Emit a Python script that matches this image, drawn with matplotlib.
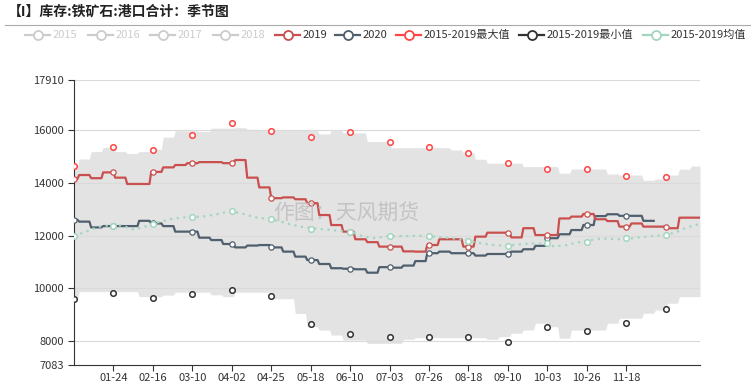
import numpy as np
import pandas as pd
import matplotlib
matplotlib.use("Agg")
import matplotlib.pyplot as plt
from matplotlib.lines import Line2D

plt.rcParams['font.family'] = ['Noto Sans CJK SC', 'DejaVu Sans']

# category axis: one point per day of a leap year
dates = pd.date_range("2020-01-01", "2020-12-31")
days = np.arange(1, len(dates) + 1)
tick_days = list(range(24, 330, 23))
tick_labels = [dates[d - 1].strftime("%m-%d") for d in tick_days]
marker_days = list(range(1, 366, 23))

# weekly values, first entry covers Jan 1-3, then weeks starting Jan 4
week_start = 4
s2019 = [14150, 14300, 14180, 14400, 14200, 13960, 13960, 14420, 14590, 14680,
         14750, 14790, 14790, 14750, 14870, 14200, 13830, 13420, 13450, 13380,
         13230, 12780, 12400, 12150, 11860, 11750, 11580, 11580, 11400, 11390,
         11640, 11860, 11860, 11580, 11960, 12110, 12110, 11930, 12280, 12020,
         12020, 12650, 12720, 12820, 12620, 12550, 12340, 12460, 12340, 12340,
         12280, 12680, 12680]
s2020 = [12600, 12530, 12310, 12360, 12360, 12360, 12560, 12460, 12360, 12150,
         12150, 11920, 11830, 11680, 11550, 11620, 11640, 11550, 11390, 11200,
         11070, 10920, 10760, 10740, 10720, 10590, 10800, 10780, 10860, 11030,
         11330, 11390, 11330, 11330, 11240, 11300, 11300, 11390, 11480, 11610,
         11900, 12050, 12210, 12400, 12740, 12810, 12750, 12750, 12560]
last_day_2020 = 339
band_top = [14620, 14910, 15190, 15350, 15190, 15120, 15190, 15280, 15740, 15980,
            15980, 15950, 16080, 16080, 16100, 16040, 15990, 15990, 15990, 15990,
            15990, 15860, 15990, 15900, 15900, 15570, 15570, 15340, 15340, 15340,
            15340, 15340, 15250, 15150, 14900, 14750, 14750, 14750, 14620, 14620,
            14620, 14370, 14530, 14530, 14530, 14340, 14300, 14300, 14100, 14150,
            14300, 14520, 14640]
band_bottom = [9580, 9870, 9870, 9870, 9870, 9870, 9680, 9680, 9740, 9850,
               9850, 9850, 9750, 9680, 9850, 9850, 9850, 9600, 9600, 9040,
               8540, 8410, 8220, 8030, 8030, 7905, 7905, 7905, 8060, 8120,
               8120, 8120, 8120, 8120, 8120, 8060, 8160, 8290, 8410, 8670,
               8540, 8100, 8410, 8410, 8410, 8670, 8860, 8860, 9050, 9170,
               9430, 9680, 9680]

# 2015-2019 mean, one value every 7 days from Jan 1
mean_weekly = [11980, 12150, 12330, 12400, 12380, 12230, 12350, 12500, 12620, 12690,
               12700, 12740, 12820, 12930, 12840, 12700, 12640, 12560, 12430, 12330,
               12270, 12230, 12180, 12150, 11980, 11900, 11970, 11980, 11990, 11990,
               11960, 11920, 11870, 11780, 11700, 11640, 11610, 11660, 11700, 11690,
               11590, 11640, 11740, 11830, 11890, 11870, 11860, 11930, 11980, 12010,
               12100, 12300, 12430]
mean_days = np.arange(1, 7 * len(mean_weekly), 7)

# symbols shown every 23 days
max_points = [14640, 15350, 15240, 15820, 16290, 15980, 15760, 15920,
              15570, 15350, 15150, 14770, 14520, 14520, 14260, 14210]
min_points = [9590, 9810, 9640, 9770, 9930, 9700, 8640, 8250,
              8160, 8160, 8140, 7960, 8530, 8380, 8690, 9200]
mean_points = [11980, 12380, 12430, 12720, 12930, 12620, 12250, 12120,
               11980, 11980, 11790, 11610, 11700, 11770, 11900, 12020]

yticks = [7083, 8000, 10000, 12000, 14000, 16000, 17910]


def to_daily(weekly, n_days):
    d = np.arange(1, n_days + 1)
    idx = np.where(d < week_start, 0, (d - week_start) // 7 + 1)
    idx = np.clip(idx, 0, len(weekly) - 1)
    return np.asarray(weekly, dtype=float)[idx]


W, H = 756, 390
fig = plt.figure(figsize=(W / 100, H / 100), dpi=100)
ax = fig.add_axes([74 / W, 1 - 365 / H, 626 / W, 285 / H])

c2019 = "#c9504e"
c2020 = "#4f5f6e"
cmax = "#ff4545"
cmin = "#333333"
cmean = "#a3d6be"
cband = "#e3e3e3"

ax.fill_between(days, to_daily(band_bottom, len(days)), to_daily(band_top, len(days)),
                color=cband, lw=0, zorder=1)
for v in yticks[1:]:
    ax.axhline(v, color="#dadada", lw=0.8, zorder=1.5)

ax.plot(days[:last_day_2020], to_daily(s2020, last_day_2020), color=c2020, lw=1.6,
        marker="o", markevery=23, ms=3.8, mfc="white", mec=c2020, mew=0.9, zorder=3)
ax.plot(days, to_daily(s2019, len(days)), color=c2019, lw=1.6,
        marker="o", markevery=23, ms=3.8, mfc="white", mec=c2019, mew=0.9, zorder=3)
ax.plot(marker_days, max_points, ls="none", marker="o", ms=4, mfc="white",
        mec=cmax, mew=1.1, zorder=4)
ax.plot(marker_days, min_points, ls="none", marker="o", ms=4, mfc="white",
        mec=cmin, mew=1.1, zorder=4)
ax.plot(mean_days, mean_weekly, color=cmean, lw=1.6, ls=(0, (1, 2)), zorder=4)
ax.plot(marker_days, mean_points, ls="none", marker="o", ms=4, mfc="white",
        mec=cmean, mew=1.1, zorder=4)

ax.set_xlim(1, len(days))
ax.set_ylim(yticks[0], yticks[-1])
ax.set_yticks(yticks)
ax.set_yticklabels([str(v) for v in yticks])
ax.set_xticks(tick_days)
ax.set_xticklabels(tick_labels)
ax.tick_params(axis="both", labelsize=8, colors="#333333", length=4, width=0.8)
ax.tick_params(axis="x", pad=2)
for side in ["top", "right"]:
    ax.spines[side].set_visible(False)
ax.spines["left"].set_color("#333333")
ax.spines["bottom"].set_color("#333333")

# title and separator
fig.text(8 / W, 1 - 12 / H, "【I】库存:铁矿石:港口合计：季节图", fontsize=10,
         fontweight="bold", color="#222222", va="center", ha="left")
fig.add_artist(Line2D([5 / W, 750 / W], [1 - 25 / H, 1 - 25 / H],
                      transform=fig.transFigure, color="#aaaaaa", lw=0.8))

# legend
legend_items = [
    ("2015", "#cccccc", "#cccccc", 25),
    ("2016", "#cccccc", "#cccccc", 88),
    ("2017", "#cccccc", "#cccccc", 150),
    ("2018", "#cccccc", "#cccccc", 213),
    ("2019", c2019, "#333333", 275),
    ("2020", c2020, "#333333", 335),
    ("2015-2019最大值", cmax, "#333333", 396),
    ("2015-2019最小值", cmin, "#333333", 519),
    ("2015-2019均值", cmean, "#333333", 643),
]
ly = 1 - 35 / H
for label, col, tcol, x0 in legend_items:
    fig.add_artist(Line2D([x0 / W, (x0 + 25) / W], [ly, ly], transform=fig.transFigure,
                          color=col, lw=1.6))
    fig.add_artist(Line2D([(x0 + 12.5) / W], [ly], transform=fig.transFigure,
                          ls="none", marker="o", ms=6.5, mfc="white", mec=col, mew=1.3))
    fig.text((x0 + 28) / W, ly, label, fontsize=8, color=tcol, va="center", ha="left")

# watermark
fig.text(346 / W, 1 - 213 / H, "作图：天风期货", fontsize=15, color="#bbbbbb",
         alpha=0.8, ha="center", va="center", zorder=10)

fig.savefig("out.png", dpi=100)
